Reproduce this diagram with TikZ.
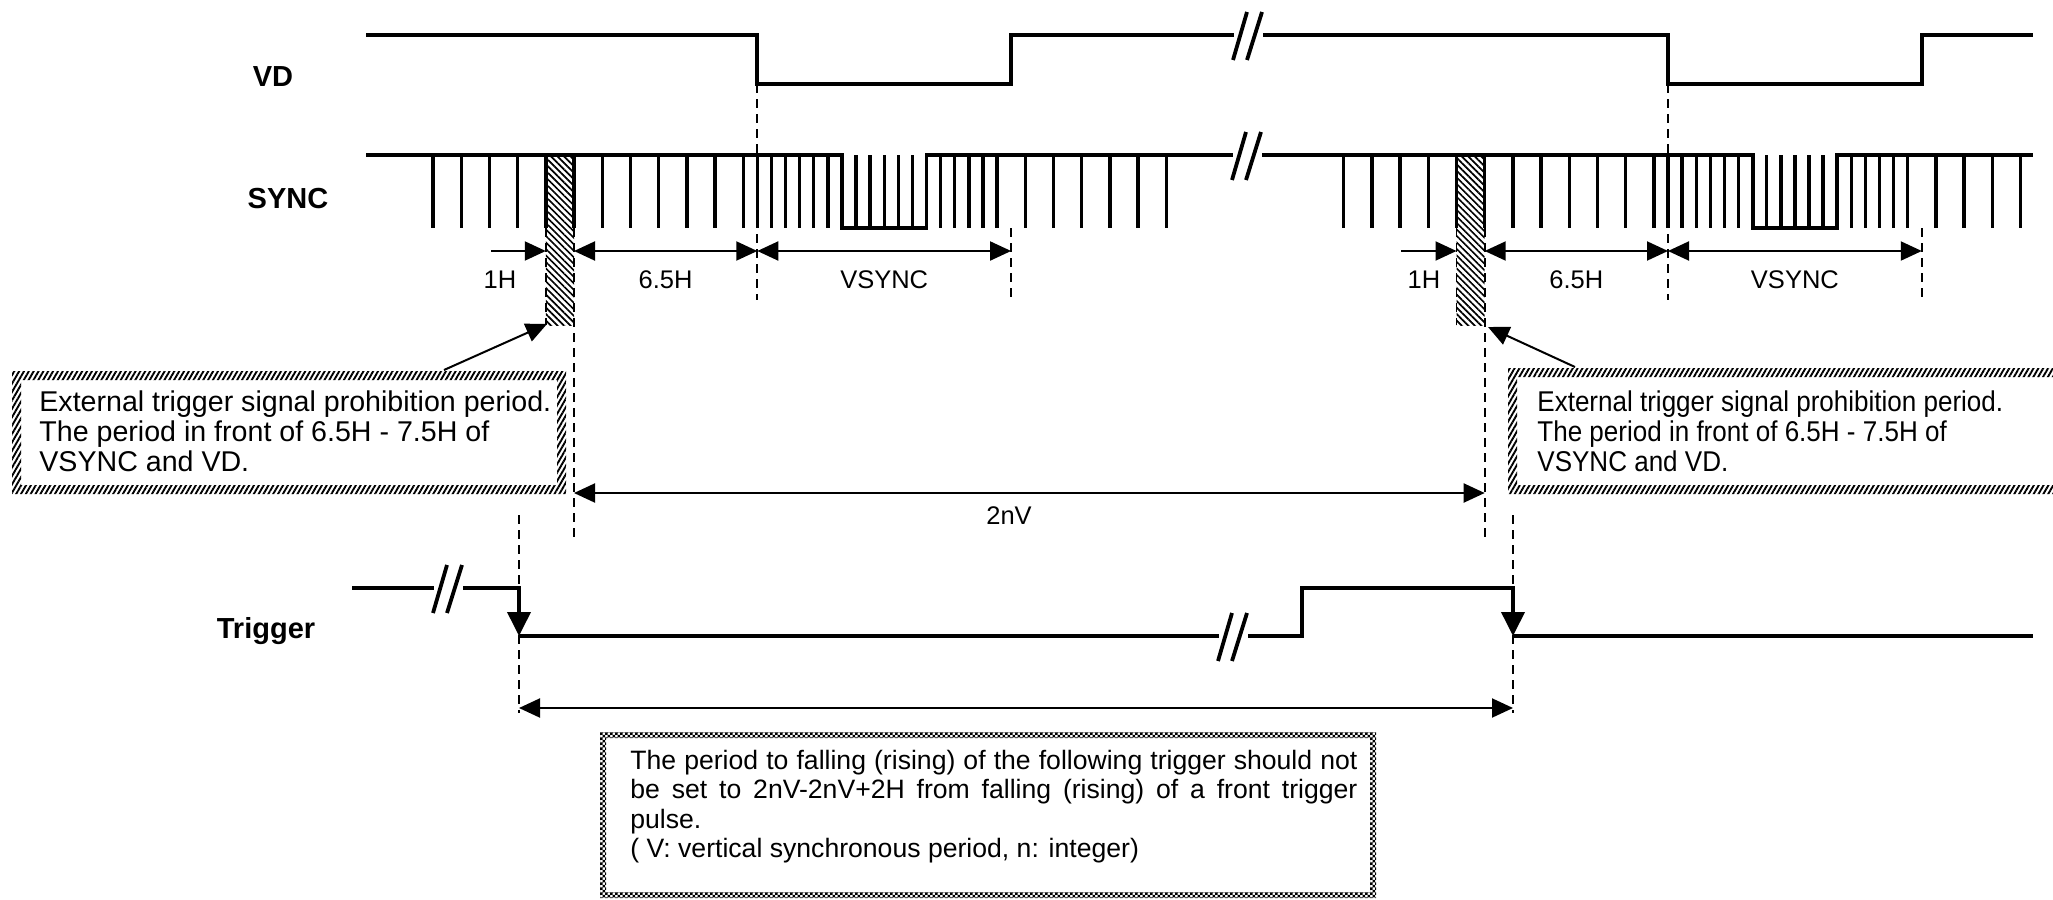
\documentclass[tikz,border=0pt]{standalone}
\usepackage{fontspec}
\setmainfont{Liberation Sans}
\newfontfamily\narrowsans[FakeStretch=0.91]{Liberation Sans}
\usetikzlibrary{arrows.meta,patterns,patterns.meta}
\pgfdeclarepatternformonly{smallcheck}{\pgfqpoint{-0.1pt}{-0.1pt}}{\pgfqpoint{2.6pt}{2.6pt}}{\pgfqpoint{2.5pt}{2.5pt}}{%
  \pgfpathrectangle{\pgfpointorigin}{\pgfqpoint{1.25pt}{1.25pt}}%
  \pgfpathrectangle{\pgfqpoint{1.25pt}{1.25pt}}{\pgfqpoint{1.25pt}{1.25pt}}%
  \pgfusepath{fill}}
\def\H{28.2}
\def\Fa{757.3}
\def\Fb{1668}
\newcommand\brkmark[2]{%
  \draw[sig] (#1-1,#2+25) -- (#1+13,#2-23);
  \draw[sig] (#1+13,#2+25) -- (#1+28,#2-23);}
\newcommand\syncticks[2]{%
  \fill[hatchfill] ({#1-7.5*\H},155) rectangle ({#1-6.5*\H},325);
  \foreach \k in {-11.5,-10.5,-9.5,-8.5,-7.5,-6.5,-5.5,-4.5,-3.5,-2.5,-1.5,-0.5,0,0.5,1,1.5,2,2.5,3.5,4,4.5,5,5.5,6.5,7,7.5,8,8.5,#2}
    {\draw[tk] ({#1+\k*\H},155) -- ({#1+\k*\H},228);}
  \draw[guide] (#1,84) -- (#1,300);
  \draw[guide] ({#1+9*\H},228) -- ({#1+9*\H},300);
  \draw[guide] ({#1-7.5*\H},228) -- ({#1-7.5*\H},325);
  \draw[guide] ({#1-6.5*\H},228) -- ({#1-6.5*\H},540);
  \draw[ddim] ({#1-6.5*\H},251) -- (#1,251);
  \draw[ddim] (#1,251) -- ({#1+9*\H},251);
  \node[lbl] at ({#1-3.25*\H},280) {6.5H};
  \node[lbl] at ({#1+4.5*\H},280) {VSYNC};}
\begin{document}
\begin{tikzpicture}[x=0.5pt,y=-0.5pt,
  sig/.style={line width=1.9pt,line join=miter},
  tk/.style={line width=1.7pt},
  guide/.style={line width=0.9pt,dash pattern=on 4.5pt off 3pt},
  dimline/.style={line width=1pt},
  dim/.style={dimline,-{Triangle[length=10.5pt,width=9.5pt]}},
  ddim/.style={dimline,{Triangle[length=10.5pt,width=9.5pt]}-{Triangle[length=10.5pt,width=9.5pt]}},
  trigtip/.style={-{Triangle[length=12pt,width=11.5pt]}},
  lbl/.style={font=\fontsize{12.75}{14}\selectfont,inner sep=0pt},
  signame/.style={font=\bfseries\fontsize{14.5}{16}\selectfont,inner sep=0pt,anchor=base},
  note/.style={font=\fontsize{14.3}{15}\selectfont,align=left,inner sep=0pt,anchor=north west},
  hatchfill/.style={pattern={Lines[angle=-45,distance=2.3pt,line width=0.85pt]}},
  brdfill/.style={pattern={Lines[angle=60,distance=2.1pt,line width=0.95pt]},even odd rule},
  chkfill/.style={pattern=smallcheck,even odd rule},
]
\fill[white] (0,0) rectangle (2053,900);
\useasboundingbox (0,0) rectangle (2053,900);

% signal names
\node[signame] (vd) at (273,86.5) {VD};
\node[signame] (sync) at (288,208.5) {SYNC};
\node[signame] (trig) at (266,638.5) {Trigger};

% VD
\draw[sig] (366,35) -- (\Fa,35) -- (\Fa,84) -- ({\Fa+9*\H},84) -- ({\Fa+9*\H},35) -- (1234,35);
\brkmark{1234}{35}
\draw[sig] (1263,35) -- (\Fb,35) -- (\Fb,84) -- ({\Fb+9*\H},84) -- ({\Fb+9*\H},35) -- (2033,35);

% SYNC
\syncticks{\Fa}{9.5,10.5,11.5,12.5,13.5,14.5}
\syncticks{\Fb}{9.5,10.5,11.5,12.5}
\draw[sig] (366,155) -- ({\Fa+3*\H},155) -- ({\Fa+3*\H},228) -- ({\Fa+6*\H},228) -- ({\Fa+6*\H},155) -- (1233,155);
\brkmark{1233}{155}
\draw[sig] (1262,155) -- ({\Fb+3*\H},155) -- ({\Fb+3*\H},228) -- ({\Fb+6*\H},228) -- ({\Fb+6*\H},155) -- (2033,155);

% 1H arrows
\coordinate (hA) at ({\Fa-7.5*\H},251);
\coordinate (hB) at ({\Fb-7.5*\H},251);
\draw[dim] (491,251) -- (hA);
\draw[dim] (1401,251) -- (hB);
\node[lbl] (h1a) at (500,280) {1H};
\node[lbl] (h1b) at (1424,280) {1H};

% 2nV
\coordinate (nvA) at ({\Fa-6.5*\H},493);
\coordinate (nvB) at ({\Fb-6.5*\H},493);
\draw[ddim] (nvA) -- (nvB);
\node[lbl] (nv) at (1009,516) {2nV};

% callout boxes
\fill[brdfill] (12,371) rectangle (566,494) (21,380) rectangle (557,485);
\fill[brdfill] (1508,368) rectangle (2090,494) (1517,377) rectangle (2081,485);
\node[note] (noteL) at (39,390) {External trigger signal prohibition period.\\The period in front of 6.5H - 7.5H of\\VSYNC and VD.};
\node[note,font=\narrowsans\fontsize{14.3}{15}\selectfont] (noteR) at (1537,390) {External trigger signal prohibition period.\\The period in front of 6.5H - 7.5H of\\VSYNC and VD.};
\coordinate (hatchtipA) at (547,324);
\coordinate (hatchtipB) at (1488,327);
\draw[dim] (444,370) -- (hatchtipA);
\draw[dim] (1575,367) -- (hatchtipB);

% Trigger
\coordinate (tA) at (519,636);
\coordinate (tB) at (1513,636);
\draw[guide] (519,515) -- (519,713);
\draw[guide] (1513,515) -- (1513,713);
\draw[sig] (352,588) -- (434,588);
\brkmark{434}{588}
\draw[sig,trigtip] (463,588) -- (519,588) -- (tA);
\draw[sig] (tA) -- (1219,636);
\brkmark{1219}{636}
\draw[sig,trigtip] (1248,636) -- (1302,636) -- (1302,588) -- (1513,588) -- (tB);
\draw[sig] (tB) -- (2033,636);
\draw[ddim] (519,708) -- (1513,708);

% bottom note
\fill[chkfill] (600,732) rectangle (1376,898) (606,738) rectangle (1370,892);
\node[font=\fontsize{13.3}{14.6}\selectfont,text width=363.5pt,align=justify,inner sep=0pt,anchor=north west] (noteB) at (630,750)
 {The period to falling (rising) of the following trigger should not\linebreak be set to 2nV-2nV+2H from falling (rising) of a front trigger\linebreak pulse.\\( V: vertical synchronous period, n: integer)};
\end{tikzpicture}
\end{document}
